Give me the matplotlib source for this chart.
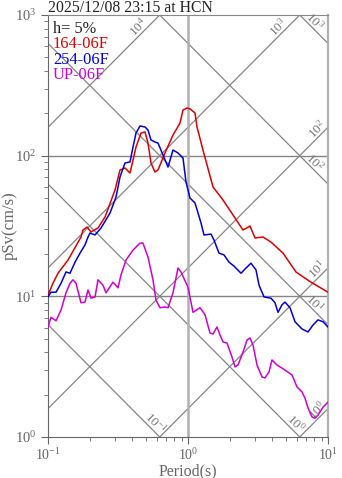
import numpy as np
import matplotlib
matplotlib.use("Agg")
import matplotlib.pyplot as plt

plt.rcParams['font.family'] = ['Liberation Serif', 'DejaVu Serif']
plt.rcParams['mathtext.fontset'] = 'custom'
plt.rcParams['mathtext.rm'] = 'Liberation Serif'

# 応答スペクトル (pSv, cm/s) - 値は図から読み取り
title = "2025/12/08 23:15 at HCN"
damping = "h= 5%"
names = ["164-06F", "254-06F", "UP-06F"]
colors = ["#dd0000", "#0000dd", "#d000d0"]

period_164 = [0.100, 0.1086, 0.1179, 0.1389, 0.1721, 0.1778, 0.1899, 0.2029, 0.2276,
              0.2553, 0.3010, 0.3268, 0.3548, 0.3853, 0.4252, 0.4617, 0.4931, 0.5179,
              0.5440, 0.5810, 0.6105, 0.6849, 0.7814, 0.8209, 0.8767, 0.9211, 0.9836,
              1.033, 1.122, 1.160, 1.279, 1.509, 1.778, 2.167, 2.471, 2.773, 3.010,
              3.434, 3.916, 4.770, 5.906, 7.561, 10.0]
psv_164 = [10.2, 12.4, 14.6, 18.1, 26.4, 29.6, 31.1, 28.7, 30.6,
           36.6, 57.0, 79.1, 81.7, 75.3, 115.2, 144.9, 147.3, 123.0,
           88.7, 76.5, 79.1, 104.5, 140.2, 152.2, 170.7, 211, 218,
           215, 201, 159.9, 109.7, 59.9, 48.4, 36.0, 29.6, 31.6, 26.0,
           26.4, 24.3, 20.3, 14.9, 12.6, 10.7]

period_254 = [0.100, 0.105, 0.1141, 0.1239, 0.1345, 0.1436, 0.1560, 0.1693, 0.1838,
              0.1931, 0.1995, 0.2167, 0.2391, 0.2773, 0.3060, 0.3268, 0.3548, 0.3853,
              0.4047, 0.4252, 0.4541, 0.4931, 0.5179, 0.5440, 0.5810, 0.6105, 0.6629,
              0.7197, 0.7814, 0.8483, 0.9211, 0.9676, 1.033, 1.122, 1.239, 1.301,
              1.460, 1.534, 1.665, 1.807, 1.963, 2.131, 2.391, 2.596, 2.818, 3.060,
              3.216, 3.491, 3.916, 4.183, 4.394, 4.693, 4.931, 5.352, 5.810, 6.520,
              7.197, 7.814, 8.483, 9.211, 10.0]
psv_254 = [9.9, 10.7, 10.7, 12.4, 14.9, 14.6, 17.5, 20.3, 23.2,
           26.4, 28.2, 27.3, 30.6, 39.1, 50.8, 70.5, 88.7, 90.2,
           115.2, 144.9, 162.5, 159.9, 152.2, 129.2, 125.0, 123.0, 101.1,
           83.0, 109.7, 104.5, 96.2, 65.0, 50.0, 46.1, 33.2, 27.3,
           27.7, 25.1, 20.3, 19.7, 17.5, 16.4, 14.6, 15.9, 17.2, 15.4,
           12.0, 9.9, 9.7, 9.0, 7.7, 8.7, 9.1, 8.3, 6.6, 5.86,
           5.58, 6.25, 6.8, 6.6, 6.05]

period_up = [0.100, 0.105, 0.1141, 0.1239, 0.1345, 0.1436, 0.1509, 0.1585, 0.1721,
             0.1838, 0.1931, 0.2029, 0.2167, 0.2276, 0.2471, 0.2596, 0.2913, 0.3162,
             0.3322, 0.3607, 0.4047, 0.4541, 0.4770, 0.5179, 0.5623, 0.5906, 0.6310,
             0.6849, 0.7197, 0.7814, 0.8483, 0.8913, 1.0, 1.086, 1.218, 1.323,
             1.436, 1.509, 1.611, 1.693, 1.778, 1.899, 2.062, 2.167, 2.276, 2.471,
             2.639, 2.773, 2.913, 3.111, 3.378, 3.548, 3.790, 3.981, 4.322, 4.931,
             5.534, 6.004, 6.520, 6.849, 7.197, 7.686, 8.073, 8.483, 9.211, 10.0]
psv_up = [6.05, 7.1, 6.7, 8.0, 10.6, 12.4, 13.1, 12.4, 9.0,
          9.1, 11.1, 9.7, 9.9, 13.1, 12.0, 10.6, 12.6, 11.5,
          14.2, 18.1, 21.3, 23.9, 23.9, 19.0, 13.1, 9.4, 8.3,
          8.4, 8.3, 10.6, 15.9, 14.9, 11.6, 7.7, 8.3, 7.4,
          5.48, 5.40, 6.05, 5.31, 4.74, 4.66, 3.70, 3.15, 3.25, 4.02,
          4.89, 5.06, 4.51, 3.25, 2.67, 2.63, 2.90, 3.53, 3.25, 2.99,
          2.76, 2.27, 2.09, 1.89, 1.61, 1.39, 1.36, 1.43, 1.63, 1.77]

# 擬似変位 (cm) と擬似加速度 (gal) の斜線
sd_levels = [0.1, 1, 10, 100, 1000]
sa_levels = [1, 10, 100, 1000, 10000]
sd_labels = ["10^{-1}", "10^{0}", "10^{1}", "10^{2}", "10^{3}"]
sa_labels = ["10^{0}", "10^{1}", "10^{2}", "10^{3}", "10^{4}"]

fig = plt.figure(figsize=(3.42, 4.78), dpi=100)
ax = fig.add_axes([48 / 342, 41 / 478, 280 / 342, 422 / 478])
ax.set_xscale('log')
ax.set_yscale('log')
ax.set_xlim(0.1, 10)
ax.set_ylim(1, 1000)

t = np.logspace(-1, 1, 200)
diag_c = '#858585'
for sd, lab in zip(sd_levels, sd_labels):
    ax.plot(t, 2 * np.pi * sd / t, color=diag_c, lw=0.9, zorder=1)
    if 2 * np.pi * sd / 10 >= 1:
        tp, vp = 7.5, 2 * np.pi * sd / 7.5
    else:
        vp = 1.16
        tp = 2 * np.pi * sd / vp
    ax.annotate('$\\mathdefault{' + lab + '}$', xy=(tp, vp), xytext=(4.5, 4.5),
                textcoords='offset pixels', rotation=-45, rotation_mode='anchor',
                ha='center', va='center', fontsize=9.5, color='#777777')
for sa, lab in zip(sa_levels, sa_labels):
    ax.plot(t, sa * t / (2 * np.pi), color=diag_c, lw=0.9, zorder=1)
    if sa * 10 / (2 * np.pi) <= 1000:
        tp, vp = 9.0, sa * 9.0 / (2 * np.pi)
    else:
        vp = 755
        tp = 2 * np.pi * vp / sa
    ax.annotate('$\\mathdefault{' + lab + '}$', xy=(tp, vp), xytext=(-4.5, 4.5),
                textcoords='offset pixels', rotation=45, rotation_mode='anchor',
                ha='center', va='center', fontsize=9.5, color='#777777')

for yv in [10, 100]:
    ax.axhline(yv, color='#858585', lw=1.0, zorder=1)
ax.axvline(1, color='#b0b0b0', lw=1.8, zorder=1)

series = [(period_164, psv_164), (period_254, psv_254), (period_up, psv_up)]
for (p, v), c in zip(series, colors):
    ax.plot(p, v, color=c, lw=1.1, zorder=3)

for s in ['left', 'bottom']:
    ax.spines[s].set_color('#666666')
ax.spines['top'].set_color('#888888')
ax.spines['right'].set_color('#b0b0b0')
ax.spines['right'].set_linewidth(1.6)
ax.tick_params(which='major', length=5, color='#666666', labelcolor='#666666',
               labelsize=10.5)
ax.tick_params(axis='x', which='major', labelsize=10, pad=2)
ax.tick_params(which='minor', length=3, color='#666666')

fig.text(48 / 342, 1 - 11.5 / 478, title, fontsize=11.3, color='#222222', va='baseline')
ax.text(53 / 342, 1 - 33 / 478, damping, transform=fig.transFigure,
        fontsize=11.8, color='#222222', va='baseline')
for i, (n, c) in enumerate(zip(names, colors)):
    ax.text(53 / 342, 1 - (48 + 15.5 * i) / 478, n, transform=fig.transFigure,
            fontsize=11.8, color=c, va='baseline')

fig.text(188 / 342, 1 - 475 / 478, "Period(s)", fontsize=11.5, color='#666666',
         ha='center', va='baseline')
fig.text(10 / 342, 1 - 226 / 478, "pSv(cm/s)", fontsize=12, color='#666666',
         ha='center', va='center', rotation=90)

fig.savefig("out.png", dpi=100)
